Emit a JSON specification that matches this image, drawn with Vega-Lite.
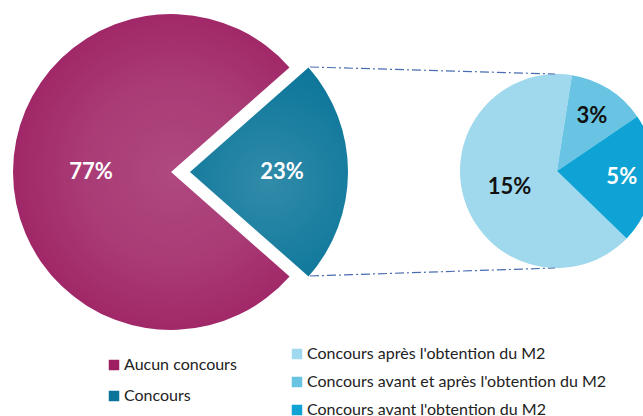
{
  "$schema": "https://vega.github.io/schema/vega-lite/v6.json",
  "width": 643,
  "height": 416,
  "padding": 0,
  "autosize": {"type": "none"},
  "config": {"view": {"stroke": null}, "font": "Lato", "legend": {"padding": 0}},
  "datasets": {
    "principal": [
      {"categorie": "Aucun concours", "part": 77, "ordre": 2, "libelle": "77%"},
      {"categorie": "Concours", "part": 23, "ordre": 1, "libelle": "23%"}
    ],
    "detail": [
      {"categorie": "Concours après l'obtention du M2", "part": 15, "ordre": 3, "libelle": "15%"},
      {"categorie": "Concours avant et après l'obtention du M2", "part": 3, "ordre": 1, "libelle": "3%"},
      {"categorie": "Concours avant l'obtention du M2", "part": 5, "ordre": 2, "libelle": "5%"}
    ],
    "liens": [
      {"lien": "haut"},
      {"lien": "bas"}
    ]
  },
  "layer": [
    {
      "data": {"name": "principal"},
      "layer": [
        {
          "mark": {"type": "arc", "x": 171, "y": 172, "outerRadius": 158},
          "encoding": {
            "theta": {"field": "part", "type": "quantitative", "stack": true, "scale": {"range": [0.848, 7.131]}},
            "order": {"field": "ordre"},
            "color": {
              "field": "categorie", "type": "nominal",
              "scale": {"domain": ["Aucun concours", "Concours"], "range": ["#9d1f62", "#0a7599"]},
              "legend": {"orient": "none", "legendX": 106, "legendY": 357, "title": null, "symbolType": "square", "symbolSize": 110, "symbolStrokeWidth": 0, "labelFontSize": 16, "labelColor": "#222222", "labelOffset": 2, "rowPadding": 15}
            },
            "opacity": {"condition": {"test": "datum.categorie === 'Concours'", "value": 0}, "value": 1}
          }
        },
        {
          "mark": {"type": "arc", "x": 171, "y": 172, "xOffset": 19, "outerRadius": 158},
          "encoding": {
            "theta": {"field": "part", "type": "quantitative", "stack": true},
            "order": {"field": "ordre"},
            "color": {"field": "categorie", "type": "nominal"},
            "opacity": {"condition": {"test": "datum.categorie === 'Concours'", "value": 1}, "value": 0}
          }
        },
        {
          "mark": {"type": "arc", "x": 171, "y": 172, "outerRadius": 158,
            "fill": {"gradient": "radial", "x1": 0.572, "y1": 0.5, "r1": 0, "x2": 0.572, "y2": 0.5, "r2": 0.6,
              "stops": [{"offset": 0, "color": "rgba(255,255,255,0.19)"}, {"offset": 0.5, "color": "rgba(255,255,255,0.12)"}, {"offset": 1, "color": "rgba(255,255,255,0)"}]}},
          "encoding": {
            "theta": {"field": "part", "type": "quantitative", "stack": true},
            "order": {"field": "ordre"},
            "opacity": {"condition": {"test": "datum.categorie === 'Concours'", "value": 0}, "value": 1}
          }
        },
        {
          "mark": {"type": "arc", "x": 171, "y": 172, "xOffset": 19, "outerRadius": 158,
            "fill": {"gradient": "radial", "x1": 0.5, "y1": 0.55, "r1": 0, "x2": 0.5, "y2": 0.55, "r2": 0.6,
              "stops": [{"offset": 0, "color": "rgba(255,255,255,0.16)"}, {"offset": 0.5, "color": "rgba(255,255,255,0.08)"}, {"offset": 1, "color": "rgba(255,255,255,0)"}]}},
          "encoding": {
            "theta": {"field": "part", "type": "quantitative", "stack": true},
            "order": {"field": "ordre"},
            "opacity": {"condition": {"test": "datum.categorie === 'Concours'", "value": 1}, "value": 0}
          }
        },
        {
          "mark": {"type": "text", "x": 171, "y": 172, "radius": 80, "fontSize": 22, "fontWeight": "bold", "color": "#ffffff", "align": "center", "baseline": "middle"},
          "encoding": {
            "theta": {"field": "part", "type": "quantitative", "stack": true},
            "order": {"field": "ordre"},
            "text": {"field": "libelle"},
            "opacity": {"condition": {"test": "datum.categorie === 'Concours'", "value": 0}, "value": 1}
          }
        },
        {
          "mark": {"type": "text", "x": 171, "y": 172, "xOffset": 19, "radius": 92, "fontSize": 22, "fontWeight": "bold", "color": "#ffffff", "align": "center", "baseline": "middle"},
          "encoding": {
            "theta": {"field": "part", "type": "quantitative", "stack": true},
            "order": {"field": "ordre"},
            "text": {"field": "libelle"},
            "opacity": {"condition": {"test": "datum.categorie === 'Concours'", "value": 1}, "value": 0}
          }
        }
      ]
    },
    {
      "data": {"name": "detail"},
      "layer": [
        {
          "mark": {"type": "arc", "x": 557, "y": 171, "outerRadius": 97},
          "encoding": {
            "theta": {"field": "part", "type": "quantitative", "stack": true, "scale": {"range": [0.155, 6.438]}},
            "order": {"field": "ordre"},
            "color": {
              "field": "categorie", "type": "nominal",
              "scale": {"domain": ["Concours après l'obtention du M2", "Concours avant et après l'obtention du M2", "Concours avant l'obtention du M2"], "range": ["#a0d9ed", "#68c4e2", "#0ea3d4"]},
              "legend": {"orient": "none", "legendX": 289, "legendY": 346, "title": null, "symbolType": "square", "symbolSize": 110, "symbolStrokeWidth": 0, "labelFontSize": 16, "labelColor": "#222222", "labelOffset": 2, "rowPadding": 12, "labelLimit": 400}
            }
          }
        },
        {
          "mark": {"type": "text", "x": 557, "y": 171, "radius": 50, "fontSize": 22, "fontWeight": "bold", "color": "#111111", "align": "center", "baseline": "middle"},
          "encoding": {
            "theta": {"field": "part", "type": "quantitative", "stack": true},
            "order": {"field": "ordre"},
            "text": {"field": "libelle"},
            "opacity": {"condition": {"test": "datum.part === 15", "value": 1}, "value": 0}
          }
        },
        {
          "mark": {"type": "text", "x": 557, "y": 171, "radius": 65, "fontSize": 22, "fontWeight": "bold", "align": "center", "baseline": "middle"},
          "encoding": {
            "theta": {"field": "part", "type": "quantitative", "stack": true},
            "order": {"field": "ordre"},
            "text": {"field": "libelle"},
            "color": {"condition": {"test": "datum.part === 5", "value": "#ffffff"}, "value": "#111111"},
            "opacity": {"condition": {"test": "datum.part === 15", "value": 0}, "value": 1}
          }
        }
      ]
    },
    {
      "data": {"name": "liens"},
      "transform": [{"filter": "datum.lien === 'haut'"}],
      "mark": {"type": "rule", "color": "#4a6db0", "strokeWidth": 1.2, "strokeDash": [9, 3, 2, 3]},
      "encoding": {
        "x": {"value": 310},
        "y": {"value": 67},
        "x2": {"value": 555},
        "y2": {"value": 74}
      }
    },
    {
      "data": {"name": "liens"},
      "transform": [{"filter": "datum.lien === 'bas'"}],
      "mark": {"type": "rule", "color": "#4a6db0", "strokeWidth": 1.2, "strokeDash": [9, 3, 2, 3]},
      "encoding": {
        "x": {"value": 310},
        "y": {"value": 276},
        "x2": {"value": 555},
        "y2": {"value": 268}
      }
    }
  ],
  "resolve": {"scale": {"color": "independent", "theta": "independent"}}
}
